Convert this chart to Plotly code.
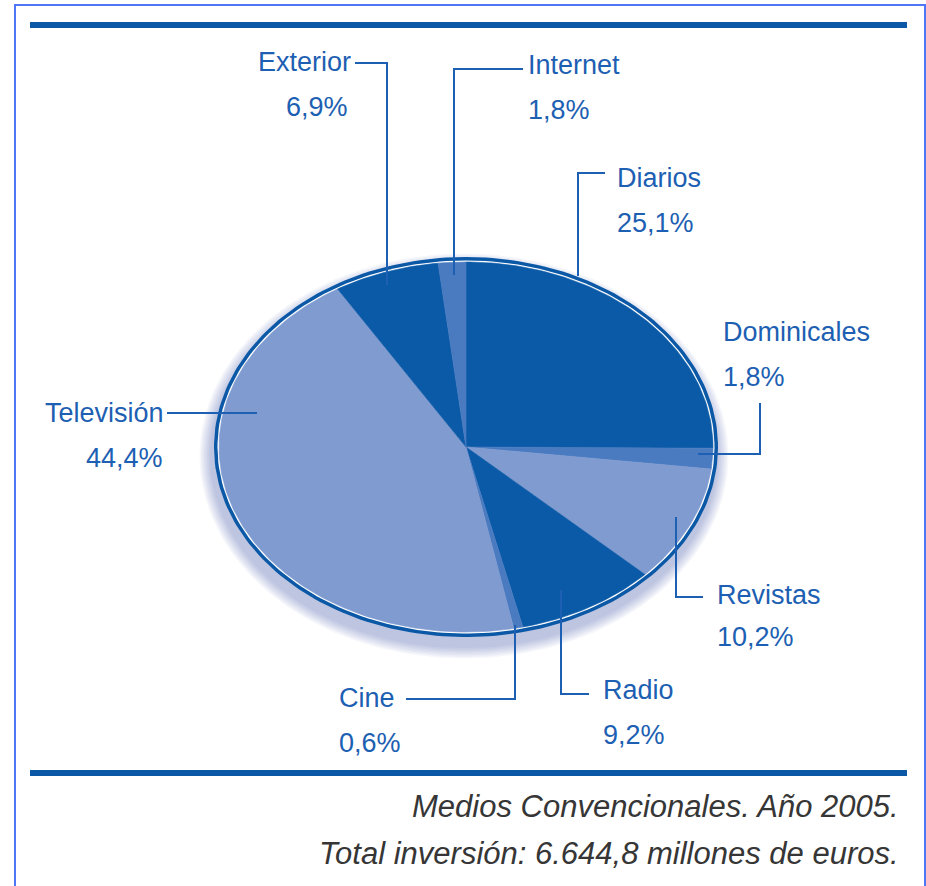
import numpy as np
import plotly.graph_objects as go

# ---------------- data ----------------
categories = ["Diarios", "Dominicales", "Revistas", "Radio", "Cine",
              "Televisión", "Exterior", "Internet"]
shares = [25.1, 1.8, 10.2, 9.2, 0.6, 44.4, 6.9, 1.8]
footer_lines = ["Medios Convencionales. Año 2005.",
                "Total inversión: 6.644,8 millones de euros."]

# ---------------- style / layout ----------------
W, H = 926, 886
TONES = {"dark": "#0b5aa8", "medium": "#4a7bc0", "light": "#7f9bd0"}
slice_tone = ["dark", "medium", "light", "dark", "medium", "light", "dark", "medium"]
TEXT_BLUE = "#1d5fb2"
RULE_BLUE = "#0b58a6"
CX, CY, RA, RB = 466, 447, 252, 190   # pie centre and semi-axes (px)
FONT = "Liberation Sans, Arial, sans-serif"

# label placement: name pos, pct pos, anchor, leader polyline (px)
LABELS = {
    "Diarios":     dict(nx=615, ny=178, px=615, py=223, anchor="left",
                        lead=[(605, 173), (578, 173), (578, 276)]),
    "Dominicales": dict(nx=721, ny=332, px=721, py=377, anchor="left",
                        lead=[(760, 403), (760, 454), (698, 454)]),
    "Revistas":    dict(nx=715, ny=595, px=715, py=637, anchor="left",
                        lead=[(703, 597), (676, 597), (676, 517)]),
    "Radio":       dict(nx=601, ny=690, px=601, py=735, anchor="left",
                        lead=[(589, 694), (561, 694), (561, 590)]),
    "Cine":        dict(nx=337, ny=698, px=337, py=743, anchor="left",
                        lead=[(406, 699), (515, 699), (515, 625)]),
    "Televisión":  dict(nx=166, ny=413, px=165, py=458, anchor="right",
                        lead=[(167, 413), (257, 413)]),
    "Exterior":    dict(nx=353, ny=62, px=350, py=107, anchor="right",
                        lead=[(355, 63), (387, 63), (387, 285)]),
    "Internet":    dict(nx=526, ny=65, px=526, py=110, anchor="left",
                        lead=[(523, 69), (454, 69), (454, 275)]),
}


def ellipse(cx, cy, ra, rb, n=240):
    t = np.linspace(0, 2 * np.pi, n)
    return cx + ra * np.sin(t), cy - rb * np.cos(t)


fig = go.Figure()

# soft shadow under the pie
for k in range(8):
    ex, ey = ellipse(CX - 2, CY + 9, RA + 2 + k * 1.5, RB + 2 + k * 1.5)
    fig.add_trace(go.Scatter(x=ex, y=ey, mode="lines", fill="toself",
                             fillcolor="rgba(40,70,170,0.045)", line=dict(width=0),
                             hoverinfo="skip", showlegend=False))

# outer dark ring + white inner ring
ex, ey = ellipse(CX, CY, RA, RB)
fig.add_trace(go.Scatter(x=ex, y=ey, mode="lines", fill="toself", fillcolor=RULE_BLUE,
                         line=dict(width=0), hoverinfo="skip", showlegend=False))
ex, ey = ellipse(CX, CY, RA - 3.5, RB - 3.5)
fig.add_trace(go.Scatter(x=ex, y=ey, mode="lines", fill="toself", fillcolor="white",
                         line=dict(width=0), hoverinfo="skip", showlegend=False))

# slices (clockwise from 12 o'clock)
total = sum(shares)
start = 0.0
ra, rb = RA - 5, RB - 5
for name, val, tone in zip(categories, shares, slice_tone):
    span = val / total * 2 * np.pi
    t = np.linspace(start, start + span, max(int(span * 60), 3))
    xs = np.concatenate([[CX], CX + ra * np.sin(t), [CX]])
    ys = np.concatenate([[CY], CY - rb * np.cos(t), [CY]])
    col = TONES[tone]
    fig.add_trace(go.Scatter(x=xs, y=ys, mode="lines", fill="toself", fillcolor=col,
                             line=dict(width=0.6, color=col), name=name,
                             hoverinfo="name", showlegend=False))
    start += span

# leader lines and labels
annotations = []
for name, val in zip(categories, shares):
    L = LABELS[name]
    lx, ly = zip(*L["lead"])
    fig.add_trace(go.Scatter(x=lx, y=ly, mode="lines", line=dict(color=TEXT_BLUE, width=2),
                             hoverinfo="skip", showlegend=False))
    pct = f"{val:.1f}".replace(".", ",") + "%"
    for txt, x, y in ((name, L["nx"], L["ny"]), (pct, L["px"], L["py"])):
        annotations.append(dict(x=x, y=y, xref="x", yref="y", text=txt, showarrow=False,
                                xanchor=L["anchor"], yanchor="middle",
                                font=dict(family=FONT, size=27, color=TEXT_BLUE)))

# footer
for txt, y in zip(footer_lines, (806, 853)):
    annotations.append(dict(x=901, y=y, xref="x", yref="y", text=f"<i>{txt}</i>",
                            showarrow=False, xanchor="right", yanchor="middle",
                            font=dict(family=FONT, size=31, color="#363636")))

shapes = [
    dict(type="rect", xref="x", yref="y", x0=15, y0=5, x1=925, y1=895,
         line=dict(color="#4f76f6", width=2), layer="below"),
    dict(type="line", xref="x", yref="y", x0=30, x1=907, y0=25, y1=25,
         line=dict(color=RULE_BLUE, width=6)),
    dict(type="line", xref="x", yref="y", x0=30, x1=907, y0=773, y1=773,
         line=dict(color=RULE_BLUE, width=6)),
]

fig.update_layout(
    width=W, height=H, autosize=False,
    margin=dict(l=0, r=0, t=0, b=0, pad=0),
    paper_bgcolor="white", plot_bgcolor="white",
    xaxis=dict(range=[0, W], visible=False, fixedrange=True),
    yaxis=dict(range=[H, 0], visible=False, fixedrange=True),
    annotations=annotations, shapes=shapes,
)

fig.write_html("out.html", config={"displayModeBar": False},
               post_script="document.body.style.margin='0';")
